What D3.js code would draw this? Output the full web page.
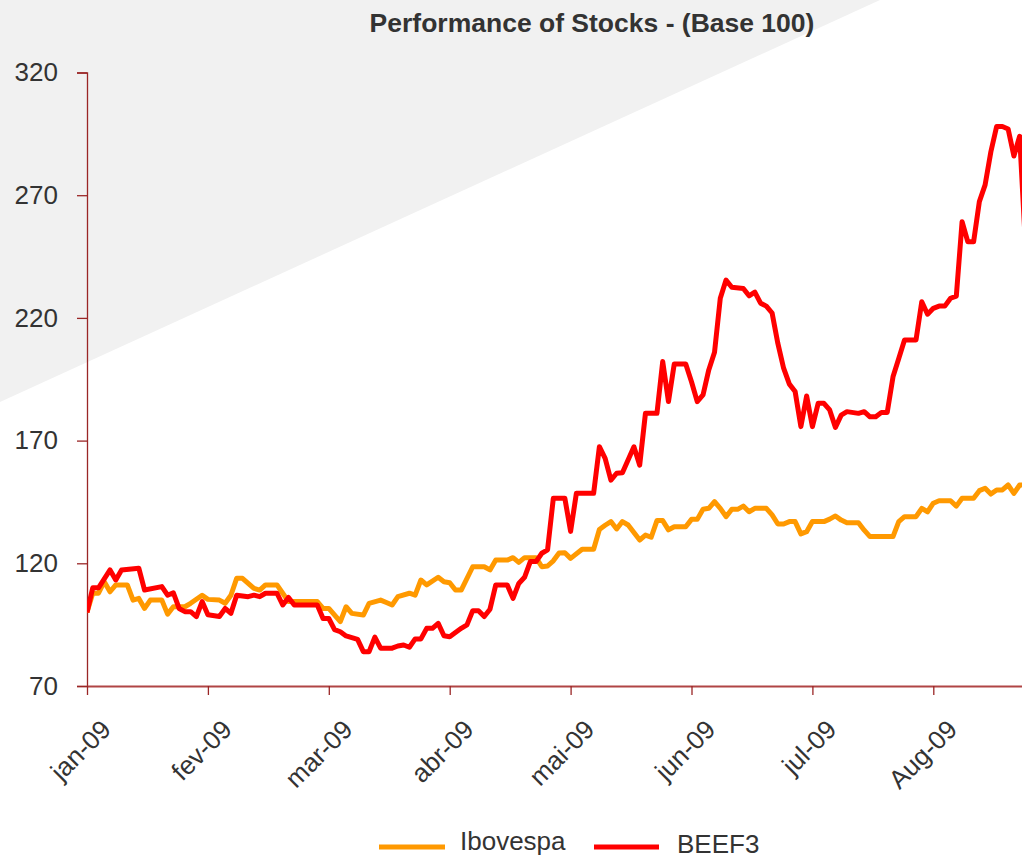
<!DOCTYPE html>
<html><head><meta charset="utf-8">
<script src="https://cdn.jsdelivr.net/npm/d3@7"></script>
<style>html,body{margin:0;padding:0;background:#fff;overflow:hidden}</style>
</head><body><svg id="c" width="1022" height="859"></svg>
<script>
const chartTitle = "Performance of Stocks - (Base 100)";
const monthLabels = ["jan-09","fev-09","mar-09","abr-09","mai-09","jun-09","jul-09","Aug-09"];
const monthTickDays = [0,21,42,63,84,105,126,147];
const yTicks = [70,120,170,220,270,320];
const seriesNames = ["Ibovespa","BEEF3"];
const seriesColors = ["#ff9900","#ff0000"];

const ibovDays = [0,1,2,3,4,5,7,8,9,10,11,13,14,15,17,18,20,21,23,24,25,26,27,29,30,31,33,34,35,40,41,42,44,45,46,48,49,51,52,53,54,56,57,58,59,61,62,63,64,65,67,69,70,71,73,74,75,76,78,79,80,81,82,83,84,86,88,89,90,91,92,93,94,96,97,98,99,100,101,102,104,105,106,107,108,109,110,111,112,113,114,115,116,118,119,120,121,122,123,124,125,126,128,129,130,131,132,134,135,136,140,141,142,144,145,146,147,148,150,151,152,154,155,156,157,158,159,160,161,162,163];
const ibovValues = [100,107.8,107.8,112.5,108.4,111.2,111.2,105,105.7,101.6,105,105,99.3,102.3,102.3,103.7,107,105.3,105,103.7,107,113.9,113.9,109.8,109.1,111.2,111.2,107.8,104.4,104.4,101.6,101.6,96.2,102.3,99.6,98.9,103.7,105,104,103,106.4,107.8,107,113.2,111.2,114.3,112.5,112.1,109.1,109.1,118.6,118.6,117.3,121.3,121.3,122.3,120.4,122.3,122.3,118.6,118.9,121,124.2,124.3,122,125.7,125.7,133.8,135.5,137,134,137,135.6,129.5,131.5,130.6,137.4,137.4,133.6,134.9,134.9,137.9,137.9,142,142.4,145.1,142.4,139,142,142,143.3,141,142.4,142.4,139.7,136,136,137,137,132,132.9,137,137,138,139.3,137.6,136.5,136.5,133.5,130.9,130.9,137,139,139,142.4,141,144.5,145.5,145.5,143.3,146.5,146.5,149.6,150.6,148.2,149.9,149.9,151.9,148.5,151.9,152];

const beefDays = [0,1,2,4,5,6,9,10,13,14,15,16,17,18,19,20,21,23,24,25,26,28,29,30,31,33,34,35,36,40,41,42,43,44,45,47,48,49,50,51,53,54,55,56,57,58,59,60,61,62,63,65,66,67,68,69,70,71,73,74,75,76,77,78,79,80,81,83,84,85,88,89,90,91,92,93,95,96,97,99,100,101,102,104,105,106,107,108,109,110,111,112,114,115,116,117,118,119,120,121,122,123,124,125,126,127,128,129,130,131,132,134,135,136,137,138,139,140,141,142,144,145,146,147,148,149,150,151,152,153,154,155,156,157,158,159,160,161,162,163];
const beefValues = [100,110,110,117.3,113.2,117.3,118,109.1,110.5,107,108,101.6,100.3,100.3,98.3,104.4,99,98.3,101.6,99.6,107,106.4,107,106.4,107.8,107.8,103,106.1,103,103,97.5,97.5,93,92.1,90.4,89,84,84,89.9,85.4,85.4,86.3,86.7,85.8,89.2,89.2,93.5,93.5,95.5,90.5,90.1,93.5,94.9,100.7,100.7,98.3,101.3,111.2,111.2,105.7,111.8,114.3,120.7,120.7,124.1,125.5,146.5,146.5,133,148.5,148.5,167.5,162.8,153.9,156.7,156.9,167.5,160,181.1,181.1,202.2,185.9,201.2,201.2,194,185.9,188.6,198.8,206,228,235.4,232.5,232,229,230.5,226,224.8,222,209.6,199.5,193,190,175.7,188.2,175.7,185.2,185.2,182.5,175.4,180.4,181.8,181.1,181.8,179.7,179.7,181.5,181.5,196,203.5,211,211,226.6,221.5,223.9,224.8,224.8,228,228.9,259.2,251,251,267.4,274.2,287.7,298,298,297,286,294,250];

const W = 1022, H = 859;
const svg = d3.select("#c");
const font = "'Liberation Sans', Arial, sans-serif";
const textColor = "#333333";
const axisColor = "#9a2626";

// faint watermark background
svg.append("polygon").attr("points", "0,0 880,0 0,402").attr("fill", "#f1f1f1");

const pxPerDay = 120.9 / 21;
const lastDay = (W - 87) / pxPerDay;
const x = d3.scaleLinear().domain([0, lastDay]).range([87, W]);
const y = d3.scaleLinear().domain([70, 320]).range([686, 72.5]);

// title
svg.append("text").attr("x", 592).attr("y", 32).attr("text-anchor", "middle")
  .attr("font-family", font).attr("font-size", 26.5).attr("font-weight", "bold")
  .attr("fill", textColor).text(chartTitle);

// y axis
const gy = svg.append("g").attr("transform", "translate(87,0)")
  .call(d3.axisLeft(y).tickValues(yTicks).tickSize(10).tickPadding(19).tickFormat(d3.format("d")));
gy.select(".domain").attr("stroke", axisColor).attr("stroke-width", 1.3);
gy.selectAll(".tick line").attr("stroke", axisColor).attr("stroke-width", 1.3);
gy.selectAll(".tick text").attr("font-family", font).attr("font-size", 26).attr("fill", textColor);

// x axis
const gx = svg.append("g").attr("transform", "translate(0,686)")
  .call(d3.axisBottom(x).tickValues(monthTickDays).tickSize(9).tickSizeOuter(0)
    .tickFormat((d, i) => monthLabels[i]));
gx.select(".domain").attr("stroke", "#b04545").attr("stroke-width", 1.8);
gx.selectAll(".tick line").attr("stroke", axisColor).attr("stroke-width", 1.3);
gx.selectAll(".tick text").attr("font-family", font).attr("font-size", 26).attr("fill", textColor)
  .attr("text-anchor", "end").attr("x", 0).attr("y", 0).attr("dy", 0)
  .attr("transform", "translate(25,45) rotate(-45)");

// clip to the plot
svg.append("clipPath").attr("id", "plotclip").append("rect")
  .attr("x", 87).attr("y", 0).attr("width", W - 87).attr("height", 700);

const line = d3.line().x(d => x(d[0])).y(d => y(d[1]));
const series = [
  d3.zip(ibovDays, ibovValues),
  d3.zip(beefDays, beefValues)
];
series.forEach((s, i) => {
  svg.append("path").datum(s).attr("d", line).attr("clip-path", "url(#plotclip)")
    .attr("fill", "none").attr("stroke", seriesColors[i]).attr("stroke-width", 5)
    .attr("stroke-linejoin", "round").attr("stroke-linecap", "butt");
});

// legend
const legendItems = [
  {x1: 379, x2: 445, tx: 460, ty: 850},
  {x1: 594, x2: 659, tx: 677, ty: 853}
];
legendItems.forEach((l, i) => {
  svg.append("line").attr("x1", l.x1).attr("x2", l.x2).attr("y1", 847).attr("y2", 847)
    .attr("stroke", seriesColors[i]).attr("stroke-width", 5);
  svg.append("text").attr("x", l.tx).attr("y", l.ty).attr("font-family", font)
    .attr("font-size", 26).attr("fill", textColor).text(seriesNames[i]);
});
</script>
</body></html>
